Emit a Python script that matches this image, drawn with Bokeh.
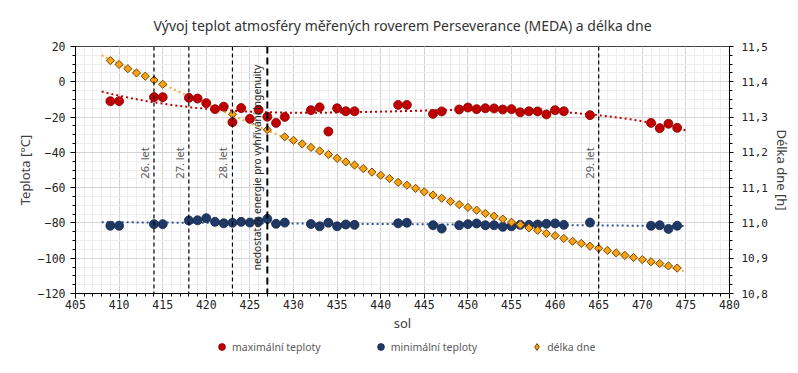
import numpy as np
from bokeh.plotting import figure
from bokeh.layouts import column
from bokeh.models import (Range1d, LinearAxis, SingleIntervalTicker, CustomJSTickFormatter,
                          Legend, LegendItem, Label, Span)
from bokeh.embed import file_html
from bokeh.resources import INLINE

# ---------------- data ----------------
sol_t = [409, 410, 414, 415, 418, 419, 420, 421, 422, 423, 424, 425, 426, 427, 428, 429,
         432, 433, 434, 435, 436, 437, 442, 443, 446, 447, 449, 450, 451, 452, 453, 454,
         455, 456, 457, 458, 459, 460, 461, 464, 471, 472, 473, 474]
t_max = [-11.0, -11.0, -8.7, -8.7, -9.1, -9.5, -12.1, -15.5, -14.1, -22.9, -14.9, -21.0,
         -15.9, -19.8, -23.3, -19.9, -16.1, -14.5, -28.2, -15.0, -16.7, -16.7, -13.1, -13.1,
         -18.2, -16.8, -15.7, -14.6, -15.5, -15.0, -15.1, -15.7, -15.5, -17.3, -16.7, -16.8,
         -18.5, -16.1, -16.7, -18.9, -23.3, -26.3, -23.8, -26.1]
t_min = [-81.6, -81.6, -80.7, -80.7, -78.6, -78.5, -77.3, -79.4, -80.2, -79.9, -79.4, -79.8,
         -79.2, -77.7, -80.5, -79.8, -80.6, -81.9, -79.9, -81.9, -80.9, -81.1, -80.2, -79.9,
         -81.3, -83.2, -81.3, -80.7, -80.3, -81.3, -81.3, -82.2, -81.9, -81.1, -81.1, -80.9,
         -80.5, -80.3, -81.1, -79.8, -81.6, -81.3, -83.4, -81.6]

sol_d = [409, 410, 411, 412, 413, 414, 415, 423, 427] + list(range(429, 475))
day_len = [11.460, 11.449, 11.437, 11.425, 11.416, 11.405, 11.393, 11.308, 11.264,
           11.244, 11.234, 11.224, 11.214, 11.204, 11.194, 11.183, 11.173, 11.164, 11.154,
           11.144, 11.135, 11.126, 11.115, 11.107, 11.098, 11.088, 11.079, 11.070, 11.061,
           11.052, 11.044, 11.036, 11.027, 11.019, 11.011, 11.002, 10.995, 10.986, 10.979,
           10.970, 10.964, 10.956, 10.948, 10.942, 10.934, 10.928, 10.922, 10.915, 10.908,
           10.902, 10.896, 10.890, 10.885, 10.878, 10.872]

events_sol = [414, 418, 423, 465]
events_txt = ["26. let", "27. let", "28. let", "29. let"]
ingenuity_sol = 427
ingenuity_txt = "nedostatek energie pro vyhřívání ingenuity"

title_txt = "Vývoj teplot atmosféry měřených roverem Perseverance (MEDA) a délka dne"
legend_labels = ["maximální teploty", "minimální teploty", "délka dne"]

RED, RED_L = "#c00000", "#8b0000"
BLUE, BLUE_L = "#1f3864", "#142850"
ORANGE, ORANGE_L = "#f5a214", "#7a4500"
TXT = "#404040"

# --------------- figure ---------------
p = figure(frame_width=654, frame_height=247, output_backend="svg", toolbar_location=None,
           x_range=Range1d(405, 480), y_range=Range1d(-120, 20),
           min_border_left=75, min_border_right=61, min_border_top=46, min_border_bottom=46)
p.extra_y_ranges = {"h": Range1d(10.8, 11.5)}
p.outline_line_color = "#404040"
p.outline_line_width = 1

p.title.text = title_txt
p.title.align = "center"
p.title.offset = -3
p.title.text_font = "Noto Sans"
p.title.text_font_size = "14px"
p.title.text_font_style = "normal"
p.title.text_color = "#333333"
p.title.standoff = 24

# grids
p.xaxis.ticker = SingleIntervalTicker(interval=5, num_minor_ticks=5)
p.yaxis.ticker = SingleIntervalTicker(interval=20, num_minor_ticks=4)
for g in (p.xgrid, p.ygrid):
    g.grid_line_color = "#d4d4d4"
    g.grid_line_width = 1
    g.minor_grid_line_color = "#eeeeee"
    g.minor_grid_line_width = 1

def style_axis(ax):
    ax.axis_line_color = "black"
    ax.major_tick_line_color = "black"
    ax.minor_tick_line_color = "black"
    ax.major_tick_in = 0
    ax.minor_tick_in = 0
    ax.major_tick_out = 5
    ax.minor_tick_out = 3
    ax.major_label_text_font = "DejaVu Sans Mono"
    ax.major_label_text_font_size = "11.5px"
    ax.major_label_text_color = "#222222"
    ax.axis_label_text_font = "Noto Sans"
    ax.axis_label_text_font_size = "13px"
    ax.axis_label_text_font_style = "normal"
    ax.axis_label_text_color = TXT

style_axis(p.xaxis[0])
style_axis(p.yaxis[0])
p.xaxis.axis_label = "sol"
p.xaxis.major_label_standoff = 1
p.xaxis.axis_label_standoff = 2
p.yaxis.axis_label = "Teplota [°C]"
p.yaxis.major_label_standoff = 5
p.yaxis.axis_label_standoff = 1

ax_r = LinearAxis(y_range_name="h", axis_label="Délka dne [h]",
                  ticker=SingleIntervalTicker(interval=0.1, num_minor_ticks=4),
                  formatter=CustomJSTickFormatter(code="return tick.toFixed(1).replace('.', ',');"))
style_axis(ax_r)
ax_r.major_tick_out = 4
ax_r.major_label_text_font_size = "11px"
ax_r.major_label_standoff = 8
ax_r.axis_label_standoff = 2
p.add_layout(ax_r, "right")

# --------------- trend lines ---------------
xs = np.linspace(408, 475, 200)
c_max = np.polyfit(sol_t, t_max, 3)
c_min = np.polyfit(sol_t, t_min, 1)
c_day = np.polyfit(sol_d, day_len, 2)
p.line(xs, np.polyval(c_max, xs), line_color=RED, line_width=2, line_dash="2 3")
p.line(xs, np.polyval(c_min, xs), line_color="#2f5597", line_width=2, line_dash="2 3")
p.line(xs, np.polyval(c_day, xs), line_color="#f0b030", line_width=2, line_dash="2 3",
       y_range_name="h")

# --------------- event lines ---------------
for s, t in zip(events_sol, events_txt):
    p.add_layout(Span(location=s, dimension="height", line_color="black",
                      line_width=1.2, line_dash="4 3"))
    p.add_layout(Label(x=s, y=-46, text=t, angle=np.pi / 2, text_align="center",
                       text_baseline="bottom", x_offset=-2, text_font="Noto Sans",
                       text_font_size="11px", text_color="#595959"))
p.add_layout(Span(location=ingenuity_sol, dimension="height", line_color="black",
                  line_width=2, line_dash="7 4"))
p.add_layout(Label(x=ingenuity_sol, y=-48.6, text=ingenuity_txt, angle=np.pi / 2,
                   text_align="center", text_baseline="bottom", x_offset=-3,
                   text_font="Noto Sans", text_font_size="10.2px", text_color="#262626"))

# --------------- series ---------------
p.scatter(sol_t, t_max, marker="circle", size=9, fill_color=RED, line_color=RED_L,
          line_width=0.8)
p.scatter(sol_t, t_min, marker="circle", size=9, fill_color=BLUE, line_color=BLUE_L,
          line_width=0.8)
p.scatter(sol_d, day_len, marker="square", angle=np.pi / 4, size=5.8,
          fill_color=ORANGE, line_color=ORANGE_L, line_width=1, y_range_name="h")

# --------------- legend strip (separate small figure under the chart) ---------------
pl = figure(width=790, height=26, output_backend="svg", toolbar_location=None,
            x_axis_location=None, y_axis_location=None, title=None,
            x_range=Range1d(0, 1), y_range=Range1d(0, 1), min_border=0)
pl.outline_line_color = None
pl.grid.visible = False
# legend keys: one off-range point each (never visible), only their symbol is shown
key_x, key_y = [-1], [-1]
l_max = pl.scatter(key_x, key_y, marker="circle", fill_color=RED, line_color=RED_L,
                   line_width=0.8)
l_min = pl.scatter(key_x, key_y, marker="circle", fill_color=BLUE, line_color=BLUE_L,
                   line_width=0.8)
l_day = pl.scatter(key_x, key_y, marker="diamond", fill_color=ORANGE, line_color=ORANGE_L,
                   line_width=1)
legend = Legend(items=[LegendItem(label=legend_labels[0], renderers=[l_max]),
                       LegendItem(label=legend_labels[1], renderers=[l_min]),
                       LegendItem(label=legend_labels[2], renderers=[l_day])],
                orientation="horizontal", location=(138, 10),
                glyph_width=17, glyph_height=17, label_height=17,
                label_standoff=2, spacing=51, padding=0, margin=0,
                border_line_color=None, background_fill_alpha=0,
                label_text_font="Noto Sans", label_text_font_size="10.5px",
                label_text_color="#595959")
pl.add_layout(legend)

layout = column(p, pl, spacing=0)
open("out.html", "w").write(file_html(layout, INLINE))
